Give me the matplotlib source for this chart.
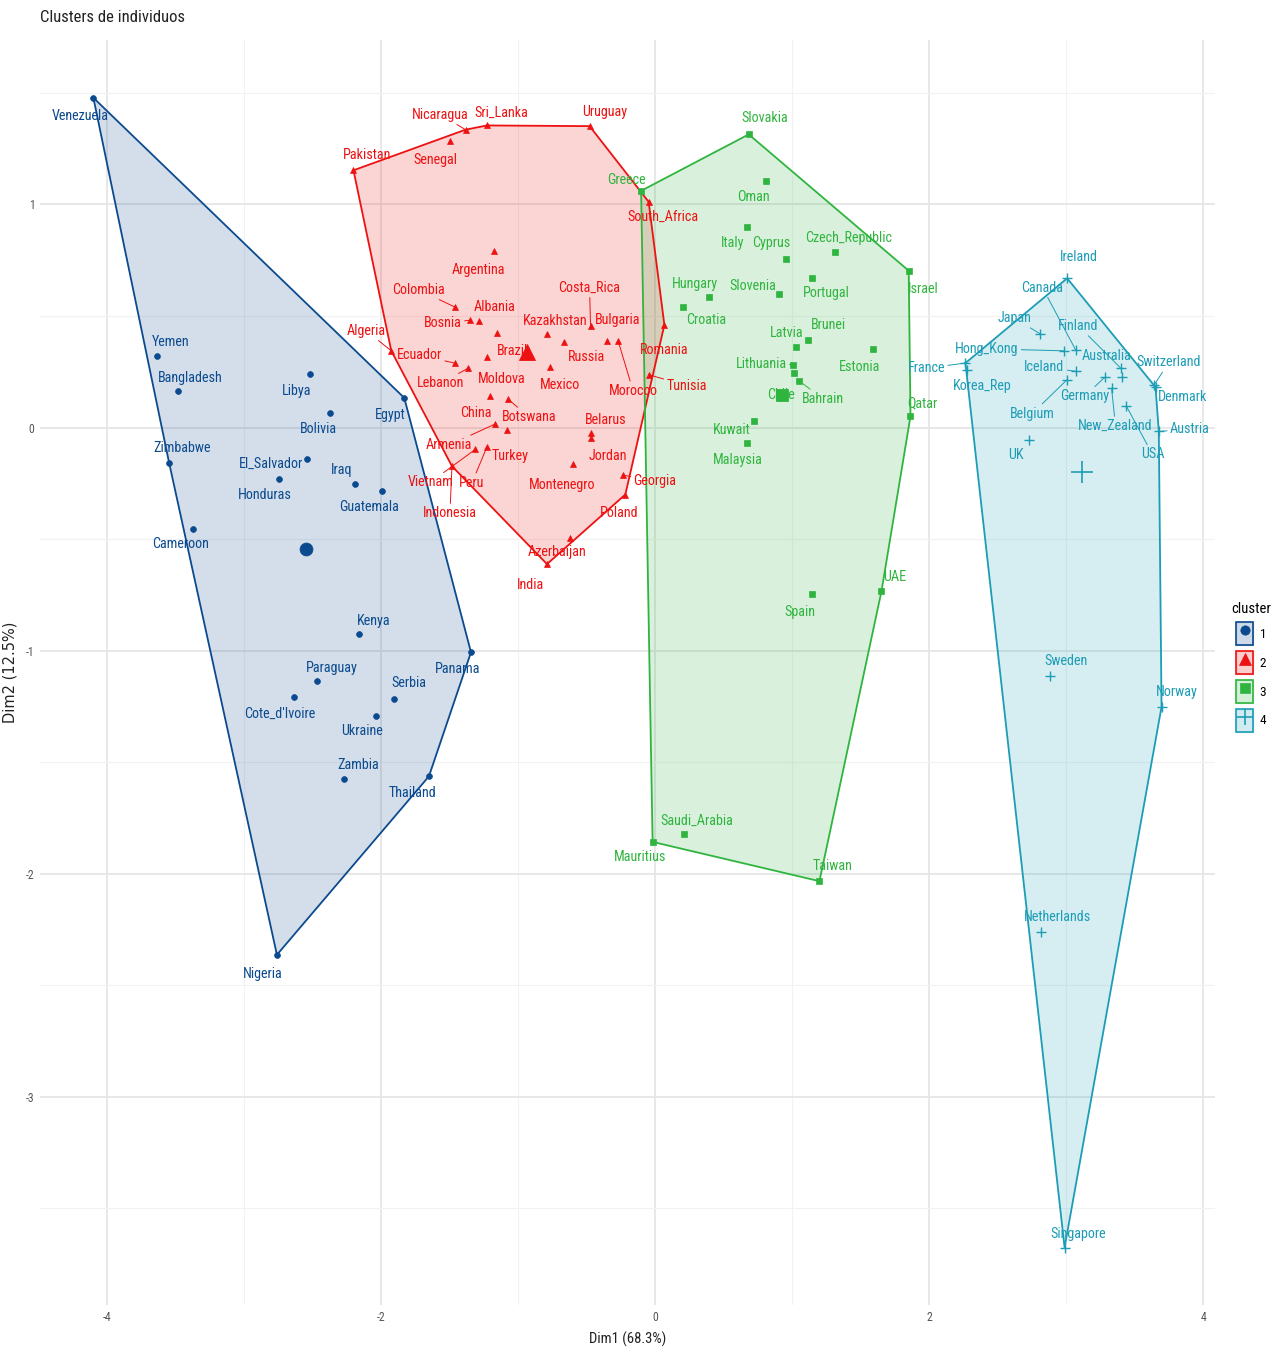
import numpy as np
import matplotlib
matplotlib.use('Agg')
import matplotlib.pyplot as plt
from matplotlib import font_manager
from matplotlib.patches import Patch
from matplotlib.lines import Line2D

# look for a narrow/condensed sans face, the reference text is squeezed
narrow_file = None
for pref in ['Liberation Sans Narrow', 'Arial Narrow', 'Roboto Condensed', 'Open Sans Condensed',
             'Noto Sans', 'DejaVu Sans', 'Open Sans', 'Roboto']:
    for f in font_manager.fontManager.ttflist:
        is_narrow = ('Narrow' in f.name or 'Condensed' in f.name or
                     f.stretch in ('condensed', 'semi-condensed', 'extra-condensed'))
        if f.name == pref and f.style == 'normal' and f.weight in (400, 'normal', 'regular') \
                and (is_narrow or 'ondensed' in f.fname or 'Narrow' in f.fname):
            narrow_file = f.fname
            break
    if narrow_file:
        break

if narrow_file:
    font_manager.fontManager.addfont(narrow_file)
    fam = font_manager.FontProperties(fname=narrow_file).get_name()
    base = 10.2
else:
    fam = 'Liberation Sans'
    base = 9.3
plt.rcParams['font.family'] = [fam, 'DejaVu Sans']
plt.rcParams['axes.unicode_minus'] = False
lab_font = font_manager.FontProperties(fname=narrow_file, size=base) if narrow_file else \
    font_manager.FontProperties(family=['Liberation Sans', 'DejaVu Sans'], size=base)

# ---- data (Dim1, Dim2) ----
names1 = ['Venezuela', 'Yemen', 'Bangladesh', 'Libya', 'Egypt', 'Bolivia', 'Zimbabwe', 'El_Salvador',
          'Honduras', 'Iraq', 'Guatemala', 'Cameroon', 'Kenya', 'Panama', 'Paraguay', "Cote_d'Ivoire",
          'Serbia', 'Ukraine', 'Zambia', 'Thailand', 'Nigeria']
dim1_c1 = [-4.103, -3.636, -3.487, -2.525, -1.833, -2.374, -3.550, -2.542, -2.749, -2.191, -1.999,
           -3.377, -2.162, -1.346, -2.471, -2.639, -1.907, -2.038, -2.272, -1.653, -2.763]
dim2_c1 = [1.478, 0.319, 0.165, 0.240, 0.133, 0.064, -0.158, -0.143, -0.231, -0.255, -0.283,
           -0.455, -0.927, -1.007, -1.135, -1.206, -1.215, -1.292, -1.575, -1.563, -2.363]

names2 = ['Pakistan', 'Nicaragua', 'Sri_Lanka', 'Uruguay', 'Senegal', 'South_Africa', 'Argentina',
          'Colombia', 'Bosnia', 'Albania', 'Brazil', 'Kazakhstan', 'Costa_Rica', 'Bulgaria', 'Morocco',
          'Romania', 'Algeria', 'Ecuador', 'Lebanon', 'Moldova', 'Russia', 'Mexico', 'Tunisia', 'China',
          'Botswana', 'Armenia', 'Turkey', 'Belarus', 'Jordan', 'Peru', 'Vietnam', 'Indonesia',
          'Montenegro', 'Georgia', 'Poland', 'Azerbaijan', 'India']
dim1_c2 = [-2.204, -1.386, -1.229, -0.480, -1.497, -0.049, -1.181, -1.466, -1.353, -1.291, -1.159,
           -0.793, -0.473, -0.353, -0.272, 0.066, -1.928, -1.466, -1.366, -1.229, -0.666, -0.767,
           -0.049, -1.210, -1.076, -1.169, -1.083, -0.467, -0.467, -1.229, -1.315, -1.485, -0.604,
           -0.236, -0.219, -0.621, -0.791]
dim2_c2 = [1.153, 1.335, 1.354, 1.351, 1.284, 1.012, 0.793, 0.541, 0.481, 0.478, 0.425, 0.418, 0.456,
           0.386, 0.389, 0.460, 0.344, 0.289, 0.266, 0.316, 0.384, 0.270, 0.237, 0.143, 0.128, 0.016,
           -0.009, -0.024, -0.046, -0.086, -0.098, -0.173, -0.165, -0.213, -0.300, -0.493, -0.612]

names3 = ['Slovakia', 'Greece', 'Oman', 'Italy', 'Cyprus', 'Czech_Republic', 'Israel', 'Hungary',
          'Croatia', 'Slovenia', 'Portugal', 'Latvia', 'Brunei', 'Estonia', 'Lithuania', 'Chile',
          'Bahrain', 'Kuwait', 'Malaysia', 'Qatar', 'UAE', 'Spain', 'Saudi_Arabia', 'Mauritius', 'Taiwan']
dim1_c3 = [0.682, -0.104, 0.809, 0.670, 0.952, 1.313, 1.850, 0.392, 0.202, 0.906, 1.147, 1.025, 1.118,
           1.590, 1.006, 1.010, 1.050, 0.723, 0.670, 1.863, 1.651, 1.147, 0.210, -0.020, 1.198]
dim2_c3 = [1.314, 1.061, 1.105, 0.900, 0.755, 0.787, 0.703, 0.587, 0.540, 0.600, 0.671, 0.361, 0.393,
           0.352, 0.282, 0.245, 0.209, 0.031, -0.068, 0.051, -0.734, -0.747, -1.823, -1.857, -2.033]

names4 = ['Ireland', 'Japan', 'Hong_Kong', 'Canada', 'Iceland', 'Belgium', 'Germany', 'Finland',
          'Australia', 'New_Zealand', 'USA', 'Switzerland', 'Denmark', 'Austria', 'UK', 'France',
          'Korea_Rep', 'Sweden', 'Norway', 'Netherlands', 'Singapore']
dim1_c4 = [3.007, 2.812, 2.982, 3.068, 3.075, 3.007, 3.280, 3.397, 3.409, 3.331, 3.440, 3.640, 3.652,
           3.676, 2.727, 2.264, 2.272, 2.885, 3.696, 2.816, 2.988]
dim2_c4 = [0.669, 0.419, 0.344, 0.349, 0.252, 0.215, 0.225, 0.267, 0.227, 0.177, 0.095, 0.189, 0.181,
           -0.017, -0.054, 0.289, 0.259, -1.113, -1.252, -2.262, -3.675]

# label offsets (pixels: right, down) mimicking the repelled labels
label_off = {
    'Venezuela': (-13, 18), 'Yemen': (13, -14), 'Bangladesh': (13, -13), 'Libya': (-13, 17),
    'Egypt': (-14, 17), 'Bolivia': (-12, 16), 'Zimbabwe': (13, -15), 'El_Salvador': (-36, 4),
    'Honduras': (-14, 16), 'Iraq': (-14, -14), 'Guatemala': (-12, 16), 'Cameroon': (-12, 15),
    'Kenya': (14, -13), 'Panama': (-13, 17), 'Paraguay': (15, -13), "Cote_d'Ivoire": (-14, 17),
    'Serbia': (15, -16), 'Ukraine': (-14, 15), 'Zambia': (14, -14), 'Thailand': (-16, 17),
    'Nigeria': (-14, 19),
    'Pakistan': (14, -15), 'Nicaragua': (-25, -15), 'Sri_Lanka': (14, -13), 'Uruguay': (15, -14),
    'Senegal': (-15, 19), 'South_Africa': (14, 15), 'Argentina': (-15, 19), 'Colombia': (-36, -17),
    'Bosnia': (-27, 3), 'Albania': (16, -14), 'Brazil': (16, 18), 'Kazakhstan': (8, -13),
    'Costa_Rica': (-1, -38), 'Bulgaria': (11, -21), 'Romania': (0, 25), 'Algeria': (-25, -20),
    'Ecuador': (-35, -8), 'Lebanon': (-28, 15), 'Moldova': (15, 22), 'Russia': (22, 15),
    'Mexico': (10, 18), 'Morocco': (15, 50), 'Tunisia': (38, 11), 'China': (-14, 17),
    'Botswana': (21, 18), 'Armenia': (-46, 21), 'Turkey': (3, 26), 'Belarus': (14, -13),
    'Jordan': (17, 18), 'Peru': (-15, 36), 'Vietnam': (-45, 33), 'Indonesia': (-2, 47),
    'Montenegro': (-10, 21), 'Georgia': (32, 6), 'Poland': (-6, 18), 'Azerbaijan': (-13, 14),
    'India': (-16, 21),
    'Slovakia': (16, -16), 'Greece': (-15, -11), 'Oman': (-13, 16), 'Italy': (-14, 16),
    'Cyprus': (-14, -16), 'Czech_Republic': (13, -14), 'Israel': (15, 18), 'Hungary': (-14, -13),
    'Croatia': (23, 13), 'Slovenia': (-27, -8), 'Portugal': (14, 15), 'Latvia': (-9, -14),
    'Brunei': (20, -15), 'Estonia': (-14, 18), 'Lithuania': (-32, -1), 'Chile': (-13, 22),
    'Bahrain': (24, 18), 'Kuwait': (-23, 9), 'Malaysia': (-9, 17), 'Qatar': (12, -13),
    'UAE': (13, -14), 'Spain': (-13, 18), 'Saudi_Arabia': (13, -13), 'Mauritius': (-13, 15),
    'Taiwan': (13, -15),
    'Ireland': (12, -21), 'Canada': (-33, -62), 'Japan': (-26, -16), 'Finland': (-42, -42),
    'Hong_Kong': (-77, -2), 'Australia': (-16, -21), 'Iceland': (-32, -4), 'Korea_Rep': (16, 16),
    'France': (-39, 5), 'Germany': (-20, 19), 'Belgium': (-35, 34), 'Switzerland': (15, -23),
    'Denmark': (27, 10), 'New_Zealand': (4, 38), 'Austria': (31, -2), 'USA': (26, 48),
    'UK': (-13, 15), 'Sweden': (16, -15), 'Norway': (15, -15), 'Netherlands': (16, -15),
    'Singapore': (14, -14),
}

clusters = [
    ('1', names1, dim1_c1, dim2_c1, '#0B4A8E', 'o', 4.2),
    ('2', names2, dim1_c2, dim2_c2, '#EE1111', '^', 5.0),
    ('3', names3, dim1_c3, dim2_c3, '#2FB53F', 's', 4.2),
    ('4', names4, dim1_c4, dim2_c4, '#1C9DB6', '+', 7.5),
]


def convex_hull(pts):
    pts = sorted(set(map(tuple, pts)))

    def cross(o, a, b):
        return (a[0] - o[0]) * (b[1] - o[1]) - (a[1] - o[1]) * (b[0] - o[0])
    lower, upper = [], []
    for p in pts:
        while len(lower) >= 2 and cross(lower[-2], lower[-1], p) <= 0:
            lower.pop()
        lower.append(p)
    for p in reversed(pts):
        while len(upper) >= 2 and cross(upper[-2], upper[-1], p) <= 0:
            upper.pop()
        upper.append(p)
    return np.array(lower[:-1] + upper[:-1])


fig = plt.figure(figsize=(12.73, 13.57), dpi=100)
ax = fig.add_axes([0.0314, 0.0383, 0.923, 0.932])

# hulls
for lab, nm, xs, ys, col, mk, ms in clusters:
    hull = convex_hull(np.column_stack([xs, ys]))
    ax.fill(hull[:, 0], hull[:, 1], facecolor=col, alpha=0.18, edgecolor='none', zorder=2)
    closed = np.vstack([hull, hull[:1]])
    ax.plot(closed[:, 0], closed[:, 1], color=col, lw=1.3, zorder=3)

# points, centroids and labels
for lab, nm, xs, ys, col, mk, ms in clusters:
    mew = 1.0 if mk == '+' else 0.5
    ax.plot(xs, ys, ls='none', marker=mk, color=col, markersize=ms, mew=mew, zorder=4)
    ax.plot(np.mean(xs), np.mean(ys), ls='none', marker=mk, color=col, markersize=ms * 2.2,
            mew=mew * 1.2, zorder=4)
    for n, x, y in zip(nm, xs, ys):
        dx, dy = label_off[n]
        far = np.hypot(dx, dy) > 27
        ax.annotate(n, (x, y), xytext=(dx, -dy), textcoords='offset pixels', ha='center', va='center',
                    fontproperties=lab_font, color=col, zorder=5,
                    arrowprops=dict(arrowstyle='-', color=col, lw=0.7, shrinkA=0, shrinkB=0) if far else None)

# axis limits with 5% expansion like ggplot
allx = np.concatenate([c[2] for c in clusters])
ally = np.concatenate([c[3] for c in clusters])
ex = (allx.max() - allx.min()) * 0.05
ey = (ally.max() - ally.min()) * 0.05
ax.set_xlim(allx.min() - ex, allx.max() + ex)
ax.set_ylim(ally.min() - ey, ally.max() + ey)

ax.set_xticks([-4, -2, 0, 2, 4])
ax.set_xticks([-3, -1, 1, 3], minor=True)
ax.set_yticks([-3, -2, -1, 0, 1])
ax.set_yticks([-3.5, -2.5, -1.5, -0.5, 0.5, 1.5], minor=True)
ax.grid(which='major', color='#E6E6E6', lw=1.3, zorder=0)
ax.grid(which='minor', color='#F2F2F2', lw=0.8, zorder=0)
ax.set_axisbelow(True)
for s in ax.spines.values():
    s.set_visible(False)
ax.tick_params(which='both', length=0, labelsize=8.5, colors='#555555', pad=4)
ax.set_xlabel('Dim1 (68.3%)', fontsize=10.5, color='#222222', labelpad=6)
ax.set_ylabel('Dim2 (12.5%)', fontsize=10.5, color='#222222', family=['DejaVu Sans'])
ax.yaxis.set_label_coords(-22 / 1175, 0.5)
fig.text(40 / 1273, 1 - 18 / 1357, 'Clusters de individuos', fontsize=base + 1.8, color='#222222',
         ha='left', va='center')

# legend
handles = []
for lab, nm, xs, ys, col, mk, ms in clusters:
    p = Patch(facecolor=col, edgecolor=col, alpha=0.2)
    pe = Patch(facecolor='none', edgecolor=col, lw=1.2)
    m = Line2D([], [], ls='none', marker=mk, color=col, markersize=ms * 1.6, mew=1.2 if mk == '+' else 0.5)
    handles.append((p, pe, m))
fig.legend(handles=handles, labels=[c[0] for c in clusters], title='cluster', loc='upper left',
           bbox_to_anchor=(1226 / 1273, 1 - 597 / 1357), frameon=False, fontsize=9.5, title_fontsize=10.5,
           handlelength=1.3, handleheight=2.3, labelspacing=0.45, handletextpad=0.5, borderaxespad=0)

fig.savefig('out.png', dpi=100)
